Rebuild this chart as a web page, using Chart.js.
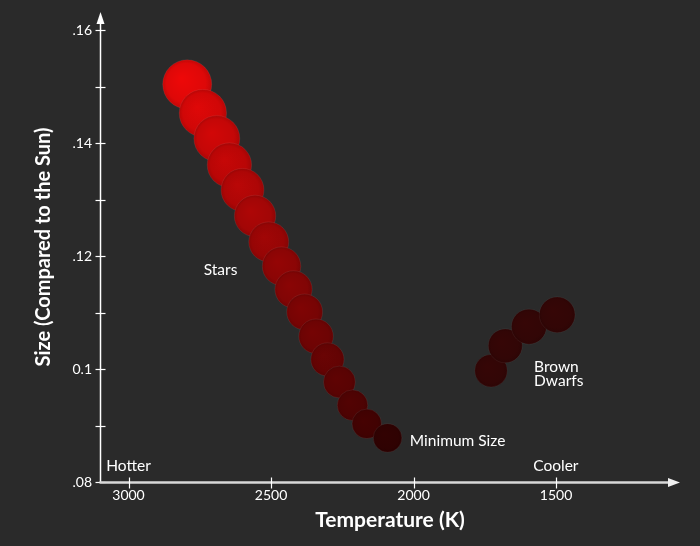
<!DOCTYPE html>
<html>
<head>
<meta charset="utf-8">
<script src="https://cdn.jsdelivr.net/npm/chart.js@4/dist/chart.umd.min.js"></script>
<style>
  html, body { margin: 0; padding: 0; background: #2a2a2a; }
  canvas { display: block; }
</style>
</head>
<body>
<canvas id="c" width="700" height="546"></canvas>
<script>
// ---- data ----
const starTemps = [2794, 2739, 2690, 2646, 2600, 2556, 2508, 2463, 2421, 2382, 2342, 2302, 2260, 2214, 2164, 2091];
const starSizes = [0.1504, 0.1453, 0.1408, 0.1361, 0.1317, 0.1271, 0.1225, 0.1182, 0.1141, 0.1101, 0.1058, 0.1017, 0.0977, 0.0936, 0.0903, 0.0878];
const dwarfTemps = [1728, 1678, 1595, 1496];
const dwarfSizes = [0.0997, 0.1041, 0.1075, 0.1096];

const xTickValues = [3000, 2500, 2000, 1500];
const xTickLabels = ['3000', '2500', '2000', '1500'];
const yTickValues = [0.08, 0.10, 0.12, 0.14, 0.16];
const yTickLabels = ['.08', '0.1', '.12', '.14', '.16'];
const yMinorTicks = [0.09, 0.11, 0.13, 0.15];

const notes = [
  { text: 'Stars', x: 2677, y: 0.1175, align: 'center' },
  { text: 'Minimum Size', x: 2013, y: 0.0873, align: 'left' },
  { text: 'Brown', x: 1577, y: 0.1004, align: 'left' },
  { text: 'Dwarfs', x: 1577, y: 0.0978, align: 'left' },
  { text: 'Hotter', x: 3078, y: 0.0828, align: 'left' },
  { text: 'Cooler', x: 1580, y: 0.0828, align: 'left' }
];

// ---- styling helpers ----
const FONT = 'Lato, "Open Sans", "DejaVu Sans", sans-serif';
const RADIUS_PER_SIZE = 163;   // bubble radius in px per unit of size
const T_HOT = 2800, T_COOL = 2090;

function starRed(t) {
  const k = Math.max(0, Math.min(1, (t - T_COOL) / (T_HOT - T_COOL)));
  return 48 + 182 * k;
}
function bubbleFill(c, baseRed, greenish) {
  const chart = c.chart;
  const sx = chart.scales.x, sy = chart.scales.y;
  const mk = (f) => {
    const rr = Math.min(255, Math.round(baseRed * f));
    const gg = Math.round((greenish ? baseRed * 0.12 : baseRed * 0.035) * f);
    return 'rgb(' + rr + ',' + gg + ',' + gg + ')';
  };
  if (!c.raw || !sx || !sy) return mk(1);
  const cx = sx.getPixelForValue(c.raw.x);
  const cy = sy.getPixelForValue(c.raw.y);
  const r = c.raw.y * RADIUS_PER_SIZE;
  if (!isFinite(cx) || !isFinite(cy)) return mk(1);
  const g = chart.ctx.createRadialGradient(cx - r * 0.25, cy - r * 0.25, 0, cx, cy, r);
  g.addColorStop(0, mk(1.04));
  g.addColorStop(0.8, mk(0.97));
  g.addColorStop(1, mk(0.85));
  return g;
}

const axesPlugin = {
  id: 'axesArrows',
  beforeDatasetsDraw(chart) {
    const { ctx, chartArea } = chart;
    const sx = chart.scales.x, sy = chart.scales.y;
    const L = Math.round(chartArea.left) + 0.5;
    const B = Math.round(chartArea.bottom) + 0.5;
    const T = chartArea.top;
    const R = chartArea.right;
    ctx.save();
    // y axis
    ctx.strokeStyle = '#ffffff';
    ctx.fillStyle = '#ffffff';
    ctx.lineWidth = 1.5;
    ctx.beginPath();
    ctx.moveTo(L, B);
    ctx.lineTo(L, T + 8);
    ctx.stroke();
    ctx.beginPath();
    ctx.moveTo(L, T);
    ctx.lineTo(L - 4, T + 12);
    ctx.lineTo(L + 4, T + 12);
    ctx.closePath();
    ctx.fill();
    // y ticks
    ctx.lineWidth = 1.2;
    yTickValues.concat(yMinorTicks).forEach(v => {
      const py = Math.round(sy.getPixelForValue(v)) + 0.5;
      ctx.beginPath();
      ctx.moveTo(L - 5, py);
      ctx.lineTo(L + 5, py);
      ctx.stroke();
    });
    // x axis
    ctx.strokeStyle = '#d8d8d8';
    ctx.lineWidth = 2.5;
    ctx.beginPath();
    ctx.moveTo(L - 1, B);
    ctx.lineTo(R - 8, B);
    ctx.stroke();
    ctx.fillStyle = '#f0f0f0';
    ctx.beginPath();
    ctx.moveTo(R, B);
    ctx.lineTo(R - 12, B - 4.5);
    ctx.lineTo(R - 12, B + 4.5);
    ctx.closePath();
    ctx.fill();
    // x ticks
    ctx.strokeStyle = '#ffffff';
    ctx.lineWidth = 1.2;
    xTickValues.forEach(v => {
      const px = Math.round(sx.getPixelForValue(v)) + 0.5;
      ctx.beginPath();
      ctx.moveTo(px, B - 5);
      ctx.lineTo(px, B + 6);
      ctx.stroke();
    });
    ctx.restore();
  },
  afterDatasetsDraw(chart) {
    const { ctx } = chart;
    const sx = chart.scales.x, sy = chart.scales.y;
    ctx.save();
    ctx.fillStyle = '#ffffff';
    ctx.font = '15.5px ' + FONT;
    ctx.textBaseline = 'middle';
    notes.forEach(n => {
      ctx.textAlign = n.align;
      ctx.fillText(n.text, sx.getPixelForValue(n.x), sy.getPixelForValue(n.y));
    });
    ctx.restore();
  }
};

const starData = starTemps.map((t, i) => ({ x: t, y: starSizes[i] }));
const dwarfData = dwarfTemps.map((t, i) => ({ x: t, y: dwarfSizes[i] }));

new Chart(document.getElementById('c'), {
  type: 'bubble',
  data: {
    datasets: [
      {
        label: 'Stars',
        data: starData,
        clip: false,
        radius: c => c.raw ? c.raw.y * RADIUS_PER_SIZE : 10,
        hoverRadius: 0,
        backgroundColor: c => bubbleFill(c, c.raw ? starRed(c.raw.x) : 150, false),
        borderColor: 'rgba(255,255,255,0.07)',
        borderWidth: 1
      },
      {
        label: 'Brown Dwarfs',
        data: dwarfData,
        clip: false,
        radius: c => c.raw ? c.raw.y * RADIUS_PER_SIZE : 10,
        hoverRadius: 0,
        backgroundColor: c => bubbleFill(c, 52, true),
        borderColor: 'rgba(255,255,255,0.05)',
        borderWidth: 1
      }
    ]
  },
  options: {
    responsive: false,
    animation: false,
    events: [],
    layout: { autoPadding: false, padding: { left: 0, right: 20, top: 12, bottom: 0 } },
    plugins: {
      legend: { display: false },
      tooltip: { enabled: false }
    },
    scales: {
      x: {
        type: 'linear',
        reverse: true,
        min: 1065,
        max: 3100,
        afterBuildTicks: s => { s.ticks = xTickValues.map(v => ({ value: v })); },
        afterFit: s => { s.height = 64; s.paddingLeft = 0; s.paddingRight = 0; },
        grid: { display: false, drawTicks: false },
        border: { display: false },
        ticks: {
          color: '#ffffff',
          font: { family: FONT, size: 14 },
          padding: 5,
          maxRotation: 0,
          autoSkip: false,
          callback: (v, i) => xTickLabels[i]
        },
        title: {
          display: true,
          text: 'Temperature (K)',
          color: '#ffffff',
          font: { family: FONT, size: 21, weight: 'bold' },
          padding: { top: 0, bottom: 13 }
        }
      },
      y: {
        type: 'linear',
        min: 0.08,
        max: 0.1632,
        afterBuildTicks: s => { s.ticks = yTickValues.map(v => ({ value: v })); },
        afterFit: s => { s.width = 100; s.paddingTop = 0; s.paddingBottom = 0; },
        grid: { display: false, drawTicks: false },
        border: { display: false },
        ticks: {
          color: '#ffffff',
          font: { family: FONT, size: 14 },
          padding: 8,
          autoSkip: false,
          callback: (v, i) => yTickLabels[i]
        },
        title: {
          display: true,
          text: 'Size (Compared to the Sun)',
          color: '#ffffff',
          font: { family: FONT, size: 20, weight: 'bold' },
          padding: { top: 32, bottom: 0 }
        }
      }
    }
  },
  plugins: [axesPlugin]
});
</script>
</body>
</html>
